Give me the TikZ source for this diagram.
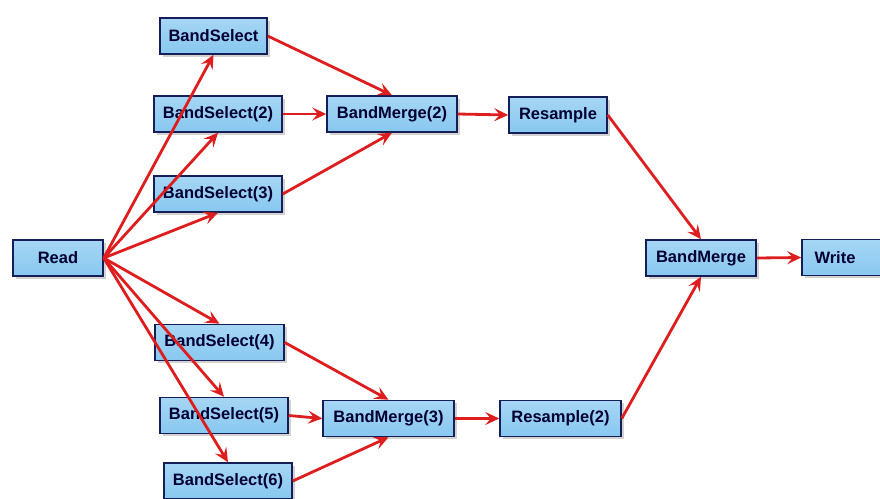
\documentclass[tikz,border=0pt]{standalone}
\usepackage{fontspec}
\setmainfont{Liberation Sans}
\usetikzlibrary{arrows.meta,shadows}

\definecolor{boxfill}{RGB}{136,200,240}
\definecolor{boxline}{RGB}{22,30,88}
\definecolor{flowred}{RGB}{222,30,30}

\tikzset{
  opbox/.style={draw=boxline, line width=1.5pt, fill=boxfill,
    top color=boxfill!75!white, bottom color=boxfill,
    minimum height=36pt, inner sep=0pt,
    font=\fontsize{16.5}{18}\selectfont\bfseries, text=black!80!blue,
    drop shadow={shadow xshift=2.5pt, shadow yshift=-2.5pt, fill=gray!50, opacity=0.7}},
  flow/.style={draw=flowred, line width=2.8pt,
    -{Stealth[length=14pt, width=13pt, inset=5.5pt]}}
}

\begin{document}
\begin{tikzpicture}[x=1pt, y=-1pt]
  \useasboundingbox (0,0) rectangle (880,498);
  \clip (0,0) rectangle (880,498);

  % processing nodes
  \node[opbox, minimum width=90pt]  (read) at (58,258)    {Read};
  \node[opbox, minimum width=107pt] (bs1)  at (213.5,36)  {BandSelect};
  \node[opbox, minimum width=128pt] (bs2)  at (218,114)   {BandSelect(2)};
  \node[opbox, minimum width=128pt] (bs3)  at (218,194)   {BandSelect(3)};
  \node[opbox, minimum width=129pt] (bs4)  at (219.5,342.5) {BandSelect(4)};
  \node[opbox, minimum width=128pt] (bs5)  at (224,415.5) {BandSelect(5)};
  \node[opbox, minimum width=128pt] (bs6)  at (228,481)   {BandSelect(6)};
  \node[opbox, minimum width=130pt] (bm2)  at (392,114)   {BandMerge(2)};
  \node[opbox, minimum width=98pt]  (rs1)  at (558,115)   {Resample};
  \node[opbox, minimum width=131pt] (bm3)  at (388.5,418.5) {BandMerge(3)};
  \node[opbox, minimum width=121pt] (rs2)  at (560.5,418.5) {Resample(2)};
  \node[opbox, minimum width=110pt] (bm)   at (701,258)   {BandMerge};
  \node[opbox, minimum width=80pt]  (wr)   at (842,257.5) {\hspace*{-14pt}Write};

  % fan-out from the reader
  \draw[flow] (read.east) -- (bs1.south);
  \draw[flow] (read.east) -- (bs2.south);
  \draw[flow] (read.east) -- (bs3.south);
  \draw[flow] (read.east) -- (bs4.north);
  \draw[flow] (read.east) -- (bs5.north);
  \draw[flow] (read.east) -- (bs6.north);

  % upper branch
  \draw[flow] (bs1.east) -- (bm2.north);
  \draw[flow] (bs2.east) -- (bm2.west);
  \draw[flow] (bs3.east) -- (bm2.south);
  \draw[flow] (bm2.east) -- (rs1.west);
  \draw[flow] (rs1.east) -- (bm.north);

  % lower branch
  \draw[flow] (bs4.east) -- (bm3.north);
  \draw[flow] (bs5.east) -- (bm3.west);
  \draw[flow] (bs6.east) -- (bm3.south);
  \draw[flow] (bm3.east) -- (rs2.west);
  \draw[flow] (rs2.east) -- (bm.south);

  % output
  \draw[flow] (bm.east) -- (wr.west);
\end{tikzpicture}
\end{document}
